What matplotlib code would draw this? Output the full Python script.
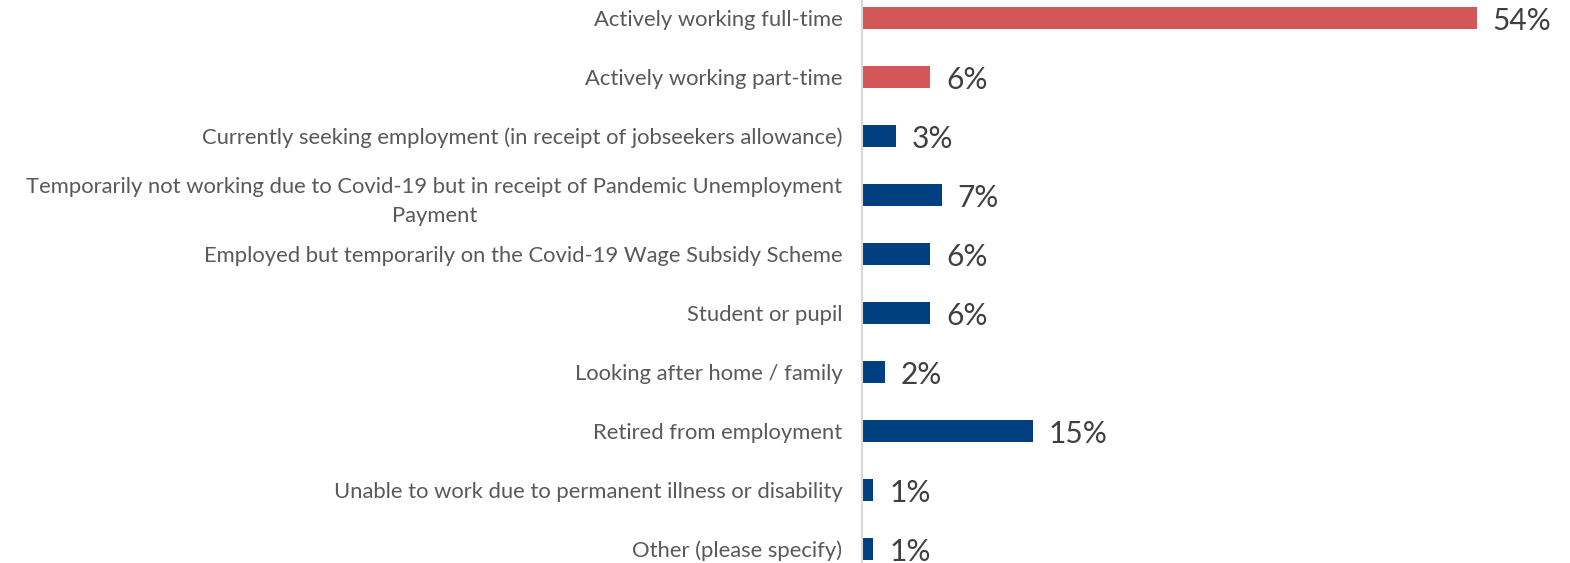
import matplotlib.pyplot as plt

categories = [
    'Actively working full-time',
    'Actively working part-time',
    'Currently seeking employment (in receipt of jobseekers allowance)',
    'Temporarily not working due to Covid-19 but in receipt of Pandemic Unemployment\nPayment',
    'Employed but temporarily on the Covid-19 Wage Subsidy Scheme',
    'Student or pupil',
    'Looking after home / family',
    'Retired from employment',
    'Unable to work due to permanent illness or disability',
    'Other (please specify)',
]
values = [54, 6, 3, 7, 6, 6, 2, 15, 1, 1]
colors = ['#D35658', '#D35658'] + ['#003F80'] * 8

plt.rcParams['font.family'] = ['Lato', 'DejaVu Sans']

fig = plt.figure(figsize=(15.7, 5.63), dpi=100)
ax = fig.add_axes([862 / 1570, 0, 1 - 862 / 1570 - 0.02, 1])

pos = list(range(len(values)))
ax.barh(pos, values, height=0.36, color=colors)
ax.set_ylim(9.237, -0.305)
ax.set_xlim(0, 59.45)

for y, v in zip(pos, values):
    ax.text(v + 1.4, y + 0.05, f'{v}%', va='center', ha='left', fontsize=21.5, color='#404040')

ax.set_yticks(pos)
ax.set_yticklabels(categories, fontsize=15.8, color='#595959', ha='right',
                   multialignment='center', linespacing=1.55)
ax.tick_params(axis='y', length=0, pad=14)
ax.set_xticks([])
for side in ['top', 'right', 'bottom']:
    ax.spines[side].set_visible(False)
ax.spines['left'].set_color('#D9D9D9')
ax.spines['left'].set_linewidth(1.5)

fig.savefig('out.png', dpi=100)
